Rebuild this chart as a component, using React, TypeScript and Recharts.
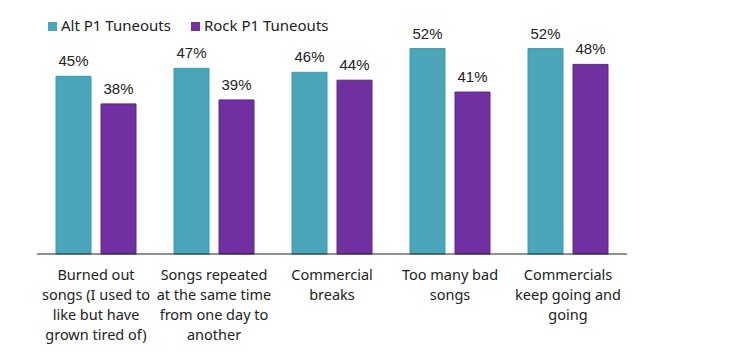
import React from "react";
import { BarChart, Bar, XAxis, YAxis, Legend, LabelList } from "recharts";

const categories = [
  "Burned out\nsongs (I used to\nlike but have\ngrown tired of)",
  "Songs repeated\nat the same time\nfrom one day to\nanother",
  "Commercial\nbreaks",
  "Too many bad\nsongs",
  "Commercials\nkeep going and\ngoing",
];
const altP1 = [45, 47, 46, 52, 52];
const rockP1 = [38, 39, 44, 41, 48];
const seriesNames = ["Alt P1 Tuneouts", "Rock P1 Tuneouts"];

const data = categories.map((c, i) => ({ name: c, alt: altP1[i], rock: rockP1[i] }));

const FONT = "'Noto Sans', sans-serif";
const LABEL_FONT = "'Liberation Sans', Arial, sans-serif";

const Tick = (props: any) => {
  const { x, y, payload } = props;
  const lines = String(payload.value).split("\n");
  return (
    <g transform={`translate(${x},${y})`}>
      {lines.map((l: string, i: number) => (
        <text
          key={i}
          x={0}
          y={18 + i * 20}
          textAnchor="middle"
          fontFamily={FONT}
          fontSize={14.5}
          fill="#222"
        >
          {l}
        </text>
      ))}
    </g>
  );
};

const fmt = (v: any) => `${v}%`;

export default function App() {
  return (
    <div style={{ width: 719, height: 344 }}>
      <BarChart
        width={719}
        height={344}
        data={data}
        margin={{ top: -11, right: 100, left: 29, bottom: 0 }}
        barSize={35}
        barGap={10}
        barCategoryGap="16%"
      >
        <XAxis
          dataKey="name"
          height={98}
          tickLine={false}
          axisLine={{ stroke: "#222", strokeWidth: 1 }}
          tick={<Tick />}
          interval={0}
        />
        <YAxis hide domain={[0, 60]} />
        <Legend
          verticalAlign="top"
          align="left"
          iconType="square"
          iconSize={9}
          wrapperStyle={{
            position: "absolute",
            top: 7,
            left: 40,
            width: "auto",
            fontFamily: FONT,
            fontSize: 15,
          }}
          formatter={(v: any) => <span style={{ color: "#222", marginRight: 10 }}>{v}</span>}
        />
        <Bar
          dataKey="alt"
          name={seriesNames[0]}
          fill="#4aa5b9"
          stroke="#3b9bb0"
          strokeWidth={1}
          isAnimationActive={false}
        >
          <LabelList
            dataKey="alt"
            position="top"
            offset={10}
            formatter={fmt}
            style={{ fontFamily: LABEL_FONT, fontSize: 15, fill: "#222" }}
          />
        </Bar>
        <Bar
          dataKey="rock"
          name={seriesNames[1]}
          fill="#7030a0"
          stroke="#5e2490"
          strokeWidth={1}
          isAnimationActive={false}
        >
          <LabelList
            dataKey="rock"
            position="top"
            offset={10}
            formatter={fmt}
            style={{ fontFamily: LABEL_FONT, fontSize: 15, fill: "#222" }}
          />
        </Bar>
      </BarChart>
    </div>
  );
}
